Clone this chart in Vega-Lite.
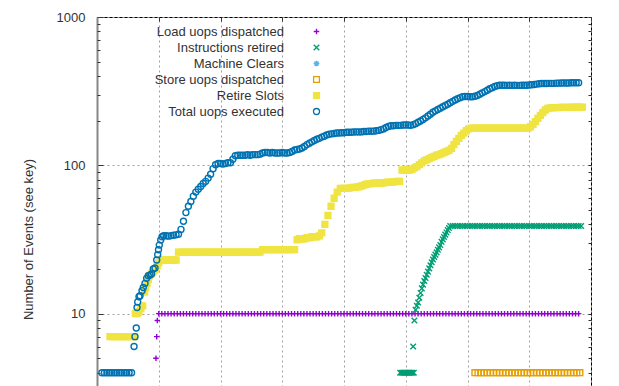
{
"$schema": "https://vega.github.io/schema/vega-lite/v6.json",
"width": 494,
"height": 445,
"autosize": {"type": "none"},
"padding": {"left": 97, "top": 17, "right": 28, "bottom": 0},
"background": "white",
"config": {
  "view": {"stroke": "#000", "strokeWidth": 1},
  "font": "Liberation Sans",
  "axis": {"labelFont": "Liberation Sans", "labelFontSize": 13, "labelColor": "#333", "titleFont": "Liberation Sans", "titleFontSize": 13, "titleFontWeight": "normal", "titleColor": "#333", "tickColor": "#333", "gridColor": "#a0a0a0", "gridDash": [2, 3], "gridWidth": 1, "gridOpacity": 1}
},
"data": {"values": [
{"k":"L","x":95.5,"y":5},{"k":"L","x":96.7,"y":7},{"k":"L","x":97.7,"y":9},
{"k":"L","x":100,"y":10},{"k":"L","x":105,"y":10},{"k":"L","x":110,"y":10},{"k":"L","x":115,"y":10},{"k":"L","x":120,"y":10},{"k":"L","x":125,"y":10},{"k":"L","x":130,"y":10},{"k":"L","x":135,"y":10},{"k":"L","x":140,"y":10},{"k":"L","x":145,"y":10},{"k":"L","x":150,"y":10},{"k":"L","x":155,"y":10},{"k":"L","x":160,"y":10},{"k":"L","x":165,"y":10},{"k":"L","x":170,"y":10},{"k":"L","x":175,"y":10},{"k":"L","x":180,"y":10},{"k":"L","x":185,"y":10},{"k":"L","x":190,"y":10},{"k":"L","x":195,"y":10},{"k":"L","x":200,"y":10},{"k":"L","x":205,"y":10},{"k":"L","x":210,"y":10},{"k":"L","x":215,"y":10},{"k":"L","x":220,"y":10},{"k":"L","x":225,"y":10},{"k":"L","x":230,"y":10},{"k":"L","x":235,"y":10},{"k":"L","x":240,"y":10},{"k":"L","x":245,"y":10},{"k":"L","x":250,"y":10},{"k":"L","x":255,"y":10},{"k":"L","x":260,"y":10},{"k":"L","x":265,"y":10},{"k":"L","x":270,"y":10},{"k":"L","x":275,"y":10},{"k":"L","x":280,"y":10},{"k":"L","x":285,"y":10},{"k":"L","x":290,"y":10},{"k":"L","x":295,"y":10},{"k":"L","x":300,"y":10},{"k":"L","x":305,"y":10},{"k":"L","x":310,"y":10},{"k":"L","x":315,"y":10},{"k":"L","x":320,"y":10},{"k":"L","x":325,"y":10},{"k":"L","x":330,"y":10},{"k":"L","x":335,"y":10},{"k":"L","x":340,"y":10},{"k":"L","x":345,"y":10},{"k":"L","x":350,"y":10},{"k":"L","x":355,"y":10},{"k":"L","x":360,"y":10},{"k":"L","x":365,"y":10},{"k":"L","x":370,"y":10},{"k":"L","x":375,"y":10},{"k":"L","x":380,"y":10},{"k":"L","x":385,"y":10},{"k":"L","x":390,"y":10},{"k":"L","x":395,"y":10},{"k":"L","x":400,"y":10},{"k":"L","x":405,"y":10},{"k":"L","x":410,"y":10},{"k":"L","x":415,"y":10},{"k":"L","x":420,"y":10},{"k":"L","x":425,"y":10},{"k":"L","x":430,"y":10},{"k":"L","x":435,"y":10},{"k":"L","x":440,"y":10},{"k":"L","x":445,"y":10},{"k":"L","x":450,"y":10},{"k":"L","x":455,"y":10},{"k":"L","x":460,"y":10},{"k":"L","x":465,"y":10},{"k":"L","x":470,"y":10},{"k":"L","x":475,"y":10},{"k":"L","x":480,"y":10},{"k":"L","x":485,"y":10},{"k":"L","x":490,"y":10},{"k":"L","x":495,"y":10},{"k":"L","x":500,"y":10},{"k":"L","x":505,"y":10},{"k":"L","x":510,"y":10},{"k":"L","x":515,"y":10},{"k":"L","x":520,"y":10},{"k":"L","x":525,"y":10},{"k":"L","x":530,"y":10},{"k":"L","x":535,"y":10},{"k":"L","x":540,"y":10},{"k":"L","x":545,"y":10},{"k":"L","x":550,"y":10},{"k":"L","x":555,"y":10},{"k":"L","x":560,"y":10},{"k":"L","x":565,"y":10},{"k":"L","x":570,"y":10},{"k":"L","x":575,"y":10},{"k":"L","x":580,"y":10},{"k":"L","x":585,"y":10},{"k":"L","x":590,"y":10},{"k":"L","x":595,"y":10},{"k":"L","x":600,"y":10},{"k":"L","x":605,"y":10},{"k":"L","x":610,"y":10},{"k":"L","x":615,"y":10},{"k":"L","x":620,"y":10},{"k":"L","x":625,"y":10},{"k":"L","x":630,"y":10},{"k":"L","x":635,"y":10},{"k":"L","x":640,"y":10},{"k":"L","x":645,"y":10},{"k":"L","x":650,"y":10},{"k":"L","x":655,"y":10},{"k":"L","x":660,"y":10},{"k":"L","x":665,"y":10},{"k":"L","x":670,"y":10},{"k":"L","x":675,"y":10},{"k":"L","x":680,"y":10},{"k":"L","x":685,"y":10},{"k":"L","x":690,"y":10},{"k":"L","x":695,"y":10},{"k":"L","x":700,"y":10},{"k":"L","x":705,"y":10},{"k":"L","x":710,"y":10},{"k":"L","x":715,"y":10},{"k":"L","x":720,"y":10},{"k":"L","x":725,"y":10},{"k":"L","x":730,"y":10},{"k":"L","x":735,"y":10},{"k":"L","x":740,"y":10},{"k":"L","x":745,"y":10},{"k":"L","x":750,"y":10},{"k":"L","x":755,"y":10},{"k":"L","x":760,"y":10},{"k":"L","x":765,"y":10},{"k":"L","x":770,"y":10},{"k":"L","x":775,"y":10},{"k":"L","x":780,"y":10},
{"k":"I","x":491,"y":4},{"k":"I","x":493,"y":4},{"k":"I","x":495,"y":4},{"k":"I","x":497,"y":4},{"k":"I","x":499,"y":4},{"k":"I","x":501,"y":4},{"k":"I","x":503,"y":4},{"k":"I","x":505,"y":4},{"k":"I","x":507,"y":4},{"k":"I","x":509,"y":4},{"k":"I","x":511,"y":4},{"k":"I","x":513,"y":4},
{"k":"I","x":512,"y":6},{"k":"I","x":514,"y":9},{"k":"I","x":516,"y":10.6},{"k":"I","x":518,"y":11.3},{"k":"I","x":520,"y":11.9},{"k":"I","x":522,"y":12.8},{"k":"I","x":524,"y":13.8},{"k":"I","x":526,"y":14.8},{"k":"I","x":528,"y":15.7},{"k":"I","x":530,"y":16.6},{"k":"I","x":532,"y":17.4},{"k":"I","x":534,"y":18.3},{"k":"I","x":536,"y":19.2},{"k":"I","x":538,"y":20.2},{"k":"I","x":540,"y":21.2},{"k":"I","x":542,"y":22.2},{"k":"I","x":544,"y":23.2},{"k":"I","x":546,"y":24.1},{"k":"I","x":548,"y":25},{"k":"I","x":550,"y":25.9},{"k":"I","x":552,"y":27},{"k":"I","x":554,"y":28},{"k":"I","x":556,"y":29},{"k":"I","x":558,"y":30.5},{"k":"I","x":560,"y":31.7},{"k":"I","x":562,"y":32.9},{"k":"I","x":564,"y":34.1},{"k":"I","x":566,"y":35.3},{"k":"I","x":568,"y":36.6},{"k":"I","x":570,"y":37.8},{"k":"I","x":572,"y":39},
{"k":"I","x":576,"y":39},{"k":"I","x":580,"y":39},{"k":"I","x":584,"y":39},{"k":"I","x":588,"y":39},{"k":"I","x":592,"y":39},{"k":"I","x":596,"y":39},{"k":"I","x":600,"y":39},{"k":"I","x":604,"y":39},{"k":"I","x":608,"y":39},{"k":"I","x":612,"y":39},{"k":"I","x":616,"y":39},{"k":"I","x":620,"y":39},{"k":"I","x":624,"y":39},{"k":"I","x":628,"y":39},{"k":"I","x":632,"y":39},{"k":"I","x":636,"y":39},{"k":"I","x":640,"y":39},{"k":"I","x":644,"y":39},{"k":"I","x":648,"y":39},{"k":"I","x":652,"y":39},{"k":"I","x":656,"y":39},{"k":"I","x":660,"y":39},{"k":"I","x":664,"y":39},{"k":"I","x":668,"y":39},{"k":"I","x":672,"y":39},{"k":"I","x":676,"y":39},{"k":"I","x":680,"y":39},{"k":"I","x":684,"y":39},{"k":"I","x":688,"y":39},{"k":"I","x":692,"y":39},{"k":"I","x":696,"y":39},{"k":"I","x":700,"y":39},{"k":"I","x":704,"y":39},{"k":"I","x":708,"y":39},{"k":"I","x":712,"y":39},{"k":"I","x":716,"y":39},{"k":"I","x":720,"y":39},{"k":"I","x":724,"y":39},{"k":"I","x":728,"y":39},{"k":"I","x":732,"y":39},{"k":"I","x":736,"y":39},{"k":"I","x":740,"y":39},{"k":"I","x":744,"y":39},{"k":"I","x":748,"y":39},{"k":"I","x":752,"y":39},{"k":"I","x":756,"y":39},{"k":"I","x":760,"y":39},{"k":"I","x":764,"y":39},{"k":"I","x":768,"y":39},{"k":"I","x":772,"y":39},{"k":"I","x":776,"y":39},{"k":"I","x":780,"y":39},{"k":"I","x":784,"y":39},
{"k":"S","x":612,"y":4},{"k":"S","x":617,"y":4},{"k":"S","x":622,"y":4},{"k":"S","x":627,"y":4},{"k":"S","x":632,"y":4},{"k":"S","x":637,"y":4},{"k":"S","x":642,"y":4},{"k":"S","x":647,"y":4},{"k":"S","x":652,"y":4},{"k":"S","x":657,"y":4},{"k":"S","x":662,"y":4},{"k":"S","x":667,"y":4},{"k":"S","x":672,"y":4},{"k":"S","x":677,"y":4},{"k":"S","x":682,"y":4},{"k":"S","x":687,"y":4},{"k":"S","x":692,"y":4},{"k":"S","x":697,"y":4},{"k":"S","x":702,"y":4},{"k":"S","x":707,"y":4},{"k":"S","x":712,"y":4},{"k":"S","x":717,"y":4},{"k":"S","x":722,"y":4},{"k":"S","x":727,"y":4},{"k":"S","x":732,"y":4},{"k":"S","x":737,"y":4},{"k":"S","x":742,"y":4},{"k":"S","x":747,"y":4},{"k":"S","x":752,"y":4},{"k":"S","x":757,"y":4},{"k":"S","x":762,"y":4},{"k":"S","x":767,"y":4},{"k":"S","x":772,"y":4},{"k":"S","x":777,"y":4},{"k":"S","x":782,"y":4},
{"k":"R","x":21,"y":7},{"k":"R","x":25,"y":7},{"k":"R","x":29,"y":7},{"k":"R","x":33,"y":7},{"k":"R","x":37,"y":7},{"k":"R","x":41,"y":7},{"k":"R","x":45,"y":7},{"k":"R","x":49,"y":7},{"k":"R","x":53,"y":7},{"k":"R","x":57,"y":7},{"k":"R","x":61,"y":7},
{"k":"R","x":62,"y":10},{"k":"R","x":65,"y":10},{"k":"R","x":68,"y":10.3},{"k":"R","x":71,"y":10.8},{"k":"R","x":74,"y":11.3},
{"k":"R","x":77,"y":14},{"k":"R","x":79,"y":15},{"k":"R","x":81,"y":16},{"k":"R","x":83,"y":17},{"k":"R","x":85,"y":18},{"k":"R","x":87.5,"y":18.5},{"k":"R","x":90,"y":19},{"k":"R","x":92.5,"y":19.5},{"k":"R","x":95,"y":20},{"k":"R","x":97.5,"y":21},{"k":"R","x":100,"y":22},
{"k":"R","x":104,"y":23},{"k":"R","x":108,"y":23},{"k":"R","x":112,"y":23},{"k":"R","x":116,"y":23},{"k":"R","x":120,"y":23},{"k":"R","x":124,"y":23},{"k":"R","x":128,"y":23},
{"k":"R","x":132,"y":26},{"k":"R","x":136,"y":26},{"k":"R","x":140,"y":26},{"k":"R","x":144,"y":26},{"k":"R","x":148,"y":26},{"k":"R","x":152,"y":26},{"k":"R","x":156,"y":26},{"k":"R","x":160,"y":26},{"k":"R","x":164,"y":26},{"k":"R","x":168,"y":26},{"k":"R","x":172,"y":26},{"k":"R","x":176,"y":26},{"k":"R","x":180,"y":26},{"k":"R","x":184,"y":26},{"k":"R","x":188,"y":26},{"k":"R","x":192,"y":26},{"k":"R","x":196,"y":26},{"k":"R","x":200,"y":26},{"k":"R","x":204,"y":26},{"k":"R","x":208,"y":26},{"k":"R","x":212,"y":26},{"k":"R","x":216,"y":26},{"k":"R","x":220,"y":26},{"k":"R","x":224,"y":26},{"k":"R","x":228,"y":26},{"k":"R","x":232,"y":26},{"k":"R","x":236,"y":26},{"k":"R","x":240,"y":26},{"k":"R","x":244,"y":26},{"k":"R","x":248,"y":26},{"k":"R","x":252,"y":26},{"k":"R","x":256,"y":26},{"k":"R","x":260,"y":26},{"k":"R","x":264,"y":26},
{"k":"R","x":268,"y":27},{"k":"R","x":272,"y":27},{"k":"R","x":276,"y":27},{"k":"R","x":280,"y":27},{"k":"R","x":284,"y":27},{"k":"R","x":288,"y":27},{"k":"R","x":292,"y":27},{"k":"R","x":296,"y":27},{"k":"R","x":300,"y":27},{"k":"R","x":304,"y":27},{"k":"R","x":308,"y":27},{"k":"R","x":312,"y":27},{"k":"R","x":316,"y":27},{"k":"R","x":320,"y":27},
{"k":"R","x":324,"y":31.5},{"k":"R","x":328,"y":32},{"k":"R","x":332,"y":32},{"k":"R","x":336,"y":32},{"k":"R","x":340,"y":32.5},{"k":"R","x":344,"y":32.5},{"k":"R","x":348,"y":33},{"k":"R","x":352,"y":33},{"k":"R","x":356,"y":33},{"k":"R","x":360,"y":33.5},
{"k":"R","x":364,"y":35},{"k":"R","x":369,"y":40},{"k":"R","x":374,"y":46},{"k":"R","x":379,"y":53},{"k":"R","x":384,"y":60},{"k":"R","x":389,"y":66},{"k":"R","x":394,"y":70},
{"k":"R","x":398,"y":70},{"k":"R","x":402,"y":70},{"k":"R","x":406,"y":70},{"k":"R","x":410,"y":70.5},{"k":"R","x":414,"y":71},{"k":"R","x":418,"y":71},{"k":"R","x":422,"y":71.5},{"k":"R","x":426,"y":72},{"k":"R","x":430,"y":73},
{"k":"R","x":434,"y":74},{"k":"R","x":438,"y":75},{"k":"R","x":442,"y":75},{"k":"R","x":446,"y":75.5},{"k":"R","x":450,"y":76},{"k":"R","x":454,"y":76},{"k":"R","x":458,"y":76},{"k":"R","x":462,"y":76},{"k":"R","x":466,"y":76.5},{"k":"R","x":470,"y":77},{"k":"R","x":474,"y":77},{"k":"R","x":478,"y":77},{"k":"R","x":482,"y":77.5},{"k":"R","x":486,"y":78},{"k":"R","x":490,"y":78},
{"k":"R","x":494,"y":93},{"k":"R","x":498,"y":93},{"k":"R","x":502,"y":93},{"k":"R","x":506,"y":93},{"k":"R","x":510,"y":94},{"k":"R","x":514,"y":96},{"k":"R","x":518,"y":98},{"k":"R","x":522,"y":101},{"k":"R","x":526,"y":104},{"k":"R","x":530,"y":107},{"k":"R","x":534,"y":109},{"k":"R","x":538,"y":111},{"k":"R","x":542,"y":113},{"k":"R","x":546,"y":115},{"k":"R","x":550,"y":117},{"k":"R","x":554,"y":118},{"k":"R","x":558,"y":120},{"k":"R","x":562,"y":122},{"k":"R","x":566,"y":124},{"k":"R","x":570,"y":126},{"k":"R","x":574,"y":130},{"k":"R","x":578,"y":138},{"k":"R","x":582,"y":145},{"k":"R","x":586,"y":152},{"k":"R","x":590,"y":159},{"k":"R","x":594,"y":165},{"k":"R","x":598,"y":171},{"k":"R","x":602,"y":176},{"k":"R","x":606,"y":178},
{"k":"R","x":610,"y":178},{"k":"R","x":614,"y":178},{"k":"R","x":618,"y":178},{"k":"R","x":622,"y":178},{"k":"R","x":626,"y":178},{"k":"R","x":630,"y":178},{"k":"R","x":634,"y":178},{"k":"R","x":638,"y":178},{"k":"R","x":642,"y":178},{"k":"R","x":646,"y":178},{"k":"R","x":650,"y":178},{"k":"R","x":654,"y":178},{"k":"R","x":658,"y":178},{"k":"R","x":662,"y":178},{"k":"R","x":666,"y":178},{"k":"R","x":670,"y":178},{"k":"R","x":674,"y":178},{"k":"R","x":678,"y":178},{"k":"R","x":682,"y":178},{"k":"R","x":686,"y":178},{"k":"R","x":690,"y":178},{"k":"R","x":694,"y":178},{"k":"R","x":698,"y":178},
{"k":"R","x":702,"y":182},{"k":"R","x":706,"y":189},{"k":"R","x":710,"y":197},{"k":"R","x":714,"y":207},{"k":"R","x":718,"y":217},{"k":"R","x":722,"y":227},{"k":"R","x":726,"y":236},{"k":"R","x":730,"y":242},{"k":"R","x":734,"y":244},{"k":"R","x":738,"y":245},{"k":"R","x":742,"y":245},{"k":"R","x":746,"y":245},{"k":"R","x":750,"y":246},{"k":"R","x":754,"y":246},{"k":"R","x":758,"y":246},{"k":"R","x":762,"y":246},{"k":"R","x":766,"y":246},{"k":"R","x":770,"y":247},{"k":"R","x":774,"y":247},{"k":"R","x":778,"y":247},{"k":"R","x":782,"y":247},{"k":"R","x":786,"y":247},
{"k":"T","x":8,"y":4},{"k":"T","x":12,"y":4},{"k":"T","x":16,"y":4},{"k":"T","x":20,"y":4},{"k":"T","x":24,"y":4},{"k":"T","x":28,"y":4},{"k":"T","x":32,"y":4},{"k":"T","x":36,"y":4},{"k":"T","x":40,"y":4},{"k":"T","x":44,"y":4},{"k":"T","x":48,"y":4},{"k":"T","x":52,"y":4},{"k":"T","x":56,"y":4},
{"k":"T","x":60,"y":6},{"k":"T","x":61.5,"y":7},{"k":"T","x":63.6,"y":8},{"k":"T","x":64.8,"y":11},{"k":"T","x":65.9,"y":12},{"k":"T","x":68,"y":13},{"k":"T","x":69.7,"y":13.2},{"k":"T","x":72.9,"y":14.3},{"k":"T","x":75,"y":15},{"k":"T","x":77.7,"y":16},{"k":"T","x":80.4,"y":17.3},{"k":"T","x":83,"y":18},{"k":"T","x":85.8,"y":18.2},{"k":"T","x":88.3,"y":18.5},{"k":"T","x":91.2,"y":20},{"k":"T","x":93.9,"y":20.3},{"k":"T","x":96.7,"y":23},{"k":"T","x":98.3,"y":25},{"k":"T","x":99.6,"y":27},{"k":"T","x":100.9,"y":29},{"k":"T","x":103.2,"y":31.4},{"k":"T","x":105.3,"y":33},
{"k":"T","x":108,"y":33.5},{"k":"T","x":112,"y":33.5},{"k":"T","x":116,"y":33.3},{"k":"T","x":120,"y":33.6},{"k":"T","x":124,"y":33.8},{"k":"T","x":128,"y":34},{"k":"T","x":132,"y":34.3},{"k":"T","x":136,"y":37},{"k":"T","x":140,"y":42},{"k":"T","x":144,"y":48},{"k":"T","x":148,"y":53},{"k":"T","x":152,"y":57},{"k":"T","x":156,"y":62},{"k":"T","x":160,"y":66},{"k":"T","x":164,"y":69},{"k":"T","x":168,"y":72},{"k":"T","x":172,"y":75.5},{"k":"T","x":176,"y":78},{"k":"T","x":180,"y":82},{"k":"T","x":184,"y":87},{"k":"T","x":188,"y":95},{"k":"T","x":192,"y":101},{"k":"T","x":196,"y":103},{"k":"T","x":200,"y":103},{"k":"T","x":204,"y":102},{"k":"T","x":208,"y":103},{"k":"T","x":212,"y":104},{"k":"T","x":216,"y":104},{"k":"T","x":220,"y":110},{"k":"T","x":224,"y":116},{"k":"T","x":228,"y":117},{"k":"T","x":232,"y":117},{"k":"T","x":236,"y":117},{"k":"T","x":240,"y":117},{"k":"T","x":244,"y":118},{"k":"T","x":248,"y":117},{"k":"T","x":252,"y":118},{"k":"T","x":256,"y":118},{"k":"T","x":260,"y":118},{"k":"T","x":264,"y":119},{"k":"T","x":268,"y":121},{"k":"T","x":272,"y":122},{"k":"T","x":276,"y":122},{"k":"T","x":280,"y":121},{"k":"T","x":284,"y":122},{"k":"T","x":288,"y":121},{"k":"T","x":292,"y":121},{"k":"T","x":296,"y":121},{"k":"T","x":300,"y":122},{"k":"T","x":304,"y":121},{"k":"T","x":308,"y":121},{"k":"T","x":312,"y":122},{"k":"T","x":316,"y":124},{"k":"T","x":320,"y":127},{"k":"T","x":324,"y":128},{"k":"T","x":328,"y":129},{"k":"T","x":332,"y":131},{"k":"T","x":336,"y":134},{"k":"T","x":340,"y":138},{"k":"T","x":344,"y":141},{"k":"T","x":348,"y":144},{"k":"T","x":352,"y":147},{"k":"T","x":356,"y":150},{"k":"T","x":360,"y":152},{"k":"T","x":364,"y":155},{"k":"T","x":368,"y":157},{"k":"T","x":372,"y":160},{"k":"T","x":376,"y":162},{"k":"T","x":380,"y":163},{"k":"T","x":384,"y":164},{"k":"T","x":388,"y":165},{"k":"T","x":392,"y":165},{"k":"T","x":396,"y":166},{"k":"T","x":400,"y":166},{"k":"T","x":404,"y":167},{"k":"T","x":408,"y":167},{"k":"T","x":412,"y":167},{"k":"T","x":416,"y":168},{"k":"T","x":420,"y":168},{"k":"T","x":424,"y":168},{"k":"T","x":428,"y":168},{"k":"T","x":432,"y":169},{"k":"T","x":436,"y":169},{"k":"T","x":440,"y":170},{"k":"T","x":444,"y":170},{"k":"T","x":448,"y":170},{"k":"T","x":452,"y":171},{"k":"T","x":456,"y":172},{"k":"T","x":460,"y":174},{"k":"T","x":464,"y":176},{"k":"T","x":468,"y":180},{"k":"T","x":472,"y":183},{"k":"T","x":476,"y":185},{"k":"T","x":480,"y":185},{"k":"T","x":484,"y":186},{"k":"T","x":488,"y":186},{"k":"T","x":492,"y":186},{"k":"T","x":496,"y":187},{"k":"T","x":500,"y":187},{"k":"T","x":504,"y":187},{"k":"T","x":508,"y":186},{"k":"T","x":512,"y":188},{"k":"T","x":516,"y":191},{"k":"T","x":520,"y":195},{"k":"T","x":524,"y":199},{"k":"T","x":528,"y":204},{"k":"T","x":532,"y":209},{"k":"T","x":536,"y":215},{"k":"T","x":540,"y":221},{"k":"T","x":544,"y":228},{"k":"T","x":548,"y":233},{"k":"T","x":552,"y":238},{"k":"T","x":556,"y":243},{"k":"T","x":560,"y":248},{"k":"T","x":564,"y":253},{"k":"T","x":568,"y":258},{"k":"T","x":572,"y":264},{"k":"T","x":576,"y":270},{"k":"T","x":580,"y":276},{"k":"T","x":584,"y":281},{"k":"T","x":588,"y":286},{"k":"T","x":592,"y":290},{"k":"T","x":596,"y":291},{"k":"T","x":600,"y":291},{"k":"T","x":604,"y":290},{"k":"T","x":608,"y":290},{"k":"T","x":612,"y":292},{"k":"T","x":616,"y":296},{"k":"T","x":620,"y":302},{"k":"T","x":624,"y":308},{"k":"T","x":628,"y":314},{"k":"T","x":632,"y":321},{"k":"T","x":636,"y":328},{"k":"T","x":640,"y":334},{"k":"T","x":644,"y":340},{"k":"T","x":648,"y":344},{"k":"T","x":652,"y":347},{"k":"T","x":656,"y":347},{"k":"T","x":660,"y":347},{"k":"T","x":664,"y":346},{"k":"T","x":668,"y":347},{"k":"T","x":672,"y":346},{"k":"T","x":676,"y":347},{"k":"T","x":680,"y":346},{"k":"T","x":684,"y":346},{"k":"T","x":688,"y":347},{"k":"T","x":692,"y":347},{"k":"T","x":696,"y":347},{"k":"T","x":700,"y":348},{"k":"T","x":704,"y":349},{"k":"T","x":708,"y":351},{"k":"T","x":712,"y":353},{"k":"T","x":716,"y":355},{"k":"T","x":720,"y":356},{"k":"T","x":724,"y":356},{"k":"T","x":728,"y":356},{"k":"T","x":732,"y":357},{"k":"T","x":736,"y":357},{"k":"T","x":740,"y":357},{"k":"T","x":744,"y":358},{"k":"T","x":748,"y":358},{"k":"T","x":752,"y":359},{"k":"T","x":756,"y":359},{"k":"T","x":760,"y":359},{"k":"T","x":764,"y":359},{"k":"T","x":768,"y":360},{"k":"T","x":772,"y":360},{"k":"T","x":776,"y":360},{"k":"T","x":780,"y":360}
]},
"encoding": {
  "x": {"field": "x", "type": "quantitative", "scale": {"domain": [0, 800], "nice": false, "zero": false},
        "axis": {"orient": "top", "values": [0, 100, 200, 300, 400, 500, 600, 700, 800], "labels": false, "title": null, "domain": false, "tickSize": -4, "grid": true}},
  "stroke": {"field": "k", "type": "nominal",
     "scale": {"domain": ["L", "I", "M", "S", "R", "T"], "range": ["#9400d3", "#009e73", "#56b4e9", "#e69f00", "#f0e442", "#0072b2"]},
     "legend": {"title": null, "orient": "none", "legendX": 213, "legendY": 8, "padding": 0, "direction": "vertical", "labelAlign": "right", "labelOffset": -39, "labelFont": "Liberation Sans", "labelFontSize": 13, "labelColor": "#333", "rowPadding": 2, "symbolStrokeWidth": 1.3, "labelLimit": 300,
       "labelExpr": "datum.value == 'L' ? 'Load uops dispatched' : datum.value == 'I' ? 'Instructions retired' : datum.value == 'M' ? 'Machine Clears' : datum.value == 'S' ? 'Store uops dispatched' : datum.value == 'R' ? 'Retire Slots' : 'Total uops executed'"}},
  "fill": {"field": "k", "type": "nominal",
     "scale": {"domain": ["L", "I", "M", "S", "R", "T"], "range": ["transparent", "transparent", "transparent", "transparent", "#f0e442", "transparent"]}},
  "shape": {"field": "k", "type": "nominal",
     "scale": {"domain": ["L", "I", "M", "S", "R", "T"], "range": ["M-1,0H1M0,-1V1", "M-1,-1L1,1M-1,1L1,-1", "M-1,0H1M0,-1V1M-0.7,-0.7L0.7,0.7M-0.7,0.7L0.7,-0.7", "square", "square", "circle"]}},
  "size": {"field": "k", "type": "nominal",
     "scale": {"domain": ["L", "I", "M", "S", "R", "T"], "range": [30, 36, 36, 30, 40, 16]}}
},
"layer": [
  {"transform": [{"filter": "datum.k == 'L' || datum.k == 'I' || datum.k == 'S'"}],
   "mark": {"type": "point", "filled": true, "strokeWidth": 1.4, "opacity": 1},
   "encoding": {"y": {"field": "y", "type": "quantitative", "scale": {"type": "log", "domain": [1, 1000], "nice": false},
      "axis": {"orient": "left", "values": [10, 100, 1000], "format": "d", "grid": true, "tickSize": -6, "labelPadding": 18, "domainColor": "#888", "domainWidth": 2,
               "title": "Number of Events (see key)", "titleAngle": -90, "titleX": -69, "titleY": 222, "titleAlign": "center", "titleBaseline": "middle"}}}},
  {"transform": [{"filter": "datum.k == 'R'"}],
   "mark": {"type": "point", "filled": true, "strokeWidth": 1.4, "opacity": 1},
   "encoding": {"y": {"field": "y", "type": "quantitative",
      "axis": {"orient": "left", "values": [2, 3, 4, 5, 6, 7, 8, 9, 20, 30, 40, 50, 60, 70, 80, 90, 200, 300, 400, 500, 600, 700, 800, 900], "labels": false, "grid": false, "domain": false, "tickSize": -3, "title": null}}}},
  {"transform": [{"filter": "datum.k == 'T'"}],
   "mark": {"type": "point", "filled": true, "strokeWidth": 1.4, "opacity": 1},
   "encoding": {"y": {"field": "y", "type": "quantitative",
      "axis": {"orient": "right", "values": [1, 2, 3, 4, 5, 6, 7, 8, 9, 10, 20, 30, 40, 50, 60, 70, 80, 90, 100, 200, 300, 400, 500, 600, 700, 800, 900, 1000], "labels": false, "grid": false, "domain": false, "tickSize": -3, "title": null}}}}
],
"resolve": {"axis": {"y": "independent"}}
}
